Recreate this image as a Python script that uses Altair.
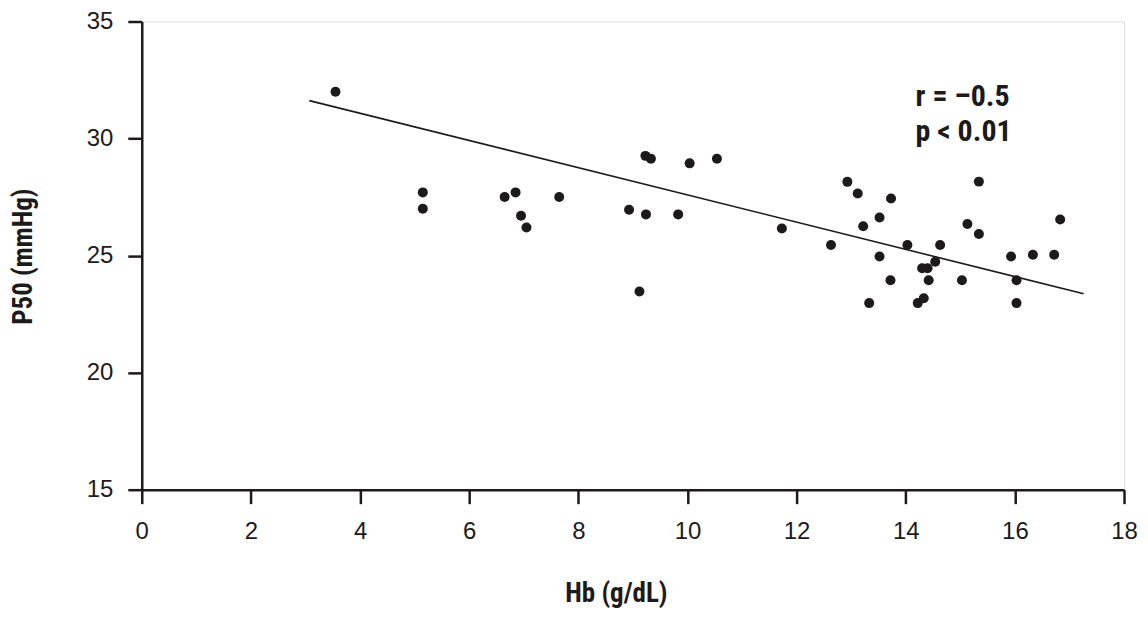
import altair as alt
import pandas as pd

# Scatter data: haemoglobin (g/dL) vs P50 (mmHg)
hb = [3.55, 5.15, 5.15, 6.65, 6.85, 6.95, 7.05, 7.65, 8.93, 9.24, 9.83, 9.12,
      9.23, 9.33, 10.04, 10.54, 11.73, 12.63, 12.93, 13.12, 13.73, 13.52, 13.22,
      14.03, 14.63, 13.52, 13.72, 13.33, 14.30, 14.40, 14.54, 14.42, 14.22, 14.33,
      15.03, 15.34, 15.13, 15.34, 15.93, 16.33, 16.72, 16.83, 16.03, 16.03]
p50 = [32.0, 27.7, 27.0, 27.5, 27.7, 26.7, 26.2, 27.5, 26.96, 26.76, 26.76, 23.47,
       29.26, 29.14, 28.94, 29.14, 26.16, 25.45, 28.15, 27.65, 27.44, 26.63, 26.25,
       25.45, 25.45, 24.96, 23.95, 22.97, 24.46, 24.46, 24.74, 23.95, 22.97, 23.18,
       23.95, 28.16, 26.35, 25.92, 24.96, 25.04, 25.04, 26.54, 23.95, 22.97]

# Regression line end points
fit_x = [3.07, 17.26]
fit_y = [31.62, 23.37]

# Annotation
ann_text = ["r = \u20130.5", "p < 0.01"]
ann_x = [14.18, 14.18]
ann_y = [31.38, 29.88]

x_ticks = [0, 2, 4, 6, 8, 10, 12, 14, 16, 18]
y_ticks = [15, 20, 25, 30, 35]

INK = "#1c1a1a"
NUM_FONT = "Liberation Sans, Arial, Helvetica, sans-serif"
COND_FONT = "Liberation Sans Narrow, Roboto Condensed, Roboto, sans-serif"

pts = pd.DataFrame({"hb": hb, "p50": p50})
fit = pd.DataFrame({"hb": fit_x, "p50": fit_y})
ann = pd.DataFrame({"hb": ann_x, "p50": ann_y, "t": ann_text})

xs = alt.Scale(domain=[0, 18], nice=False, zero=False)
ys = alt.Scale(domain=[15, 35], nice=False, zero=False)

x_axis = alt.Axis(
    title="Hb (g/dL)", values=x_ticks, grid=False, labelFlush=False,
    domainColor=INK, domainWidth=2.5, tickColor=INK, tickWidth=2.5, tickSize=14,
    labelFont=NUM_FONT, labelFontSize=24, labelColor=INK, labelPadding=16,
    titleFont=COND_FONT, titleFontSize=27, titleFontWeight="bold", titleColor=INK,
    titleX=475, titleY=112, titleAlign="center", titleBaseline="alphabetic",
)
y_axis = alt.Axis(
    title="P50 (mmHg)", values=y_ticks, grid=False, labelFlush=False,
    domainColor=INK, domainWidth=2.5, tickColor=INK, tickWidth=2.5, tickSize=14,
    labelFont=NUM_FONT, labelFontSize=24, labelColor=INK, labelPadding=15,
    titleFont=COND_FONT, titleFontSize=27, titleFontWeight="bold", titleColor=INK,
    titleX=-104, titleY=235, titleAngle=-90, titleAlign="center", titleBaseline="bottom",
)

points = alt.Chart(pts).mark_circle(size=100, color=INK, opacity=1).encode(
    x=alt.X("hb:Q", scale=xs, axis=x_axis),
    y=alt.Y("p50:Q", scale=ys, axis=y_axis),
)

line = alt.Chart(fit).mark_line(color=INK, strokeWidth=1.6).encode(
    x=alt.X("hb:Q", scale=xs),
    y=alt.Y("p50:Q", scale=ys),
)

text = alt.Chart(ann).mark_text(
    align="left", baseline="alphabetic", font=COND_FONT, fontSize=30,
    fontWeight="bold", color=INK,
).encode(
    x=alt.X("hb:Q", scale=xs),
    y=alt.Y("p50:Q", scale=ys),
    text="t:N",
)

chart = alt.layer(line, points, text).properties(
    width=984, height=469,
    autosize=alt.AutoSizeParams(type="none"),
    padding={"left": 134, "top": 13, "right": 16, "bottom": 120},
).configure_view(stroke=None).configure(background="white")

chart.save("out.html", embed_options={"renderer": "svg", "actions": False})
